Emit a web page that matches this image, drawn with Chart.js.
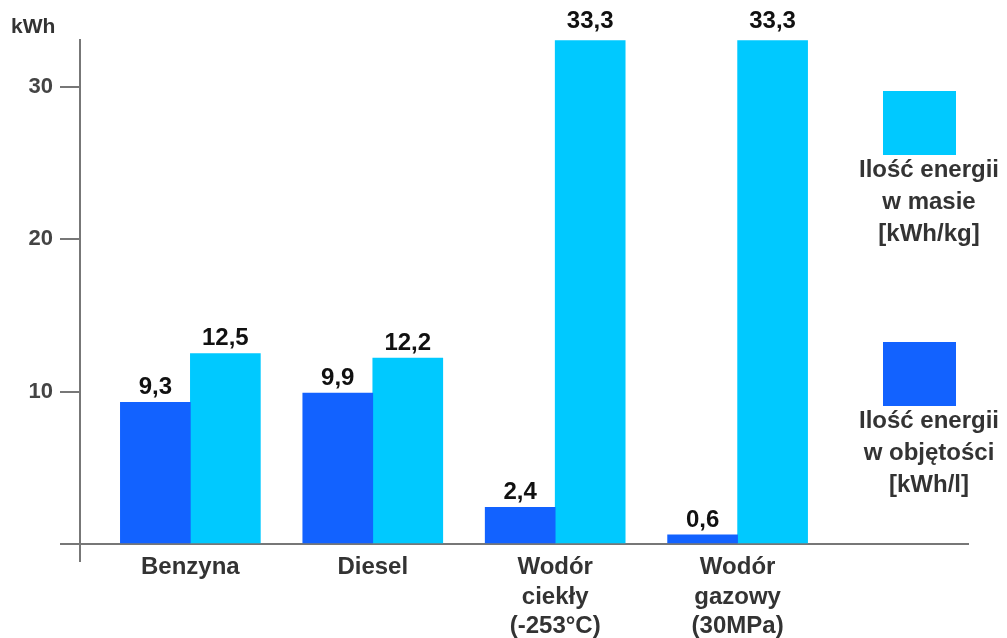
<!DOCTYPE html>
<html>
<head>
<meta charset="utf-8">
<script src="https://cdn.jsdelivr.net/npm/chart.js@4"></script>
<style>
  html, body { margin: 0; padding: 0; background: #fff; }
  #wrap { width: 1007px; height: 638px; }
</style>
</head>
<body>
<div id="wrap"><canvas id="chart"></canvas></div>
<script>
const CATEGORIES = [['Benzyna'], ['Diesel'], ['Wodór', 'ciekły', '(-253°C)'], ['Wodór', 'gazowy', '(30MPa)']];
const PER_VOLUME = [9.3, 9.9, 2.4, 0.6];
const PER_MASS = [12.5, 12.2, 33.3, 33.3];
const VOLUME_LABEL = ['Ilość energii', 'w objętości', '[kWh/l]'];
const MASS_LABEL = ['Ilość energii', 'w masie', '[kWh/kg]'];
const Y_TICKS = [0, 10, 20, 30];
const UNIT = 'kWh';

const X_MIN = -0.605;
const X_MAX = 4.263;
const Y_MAX = 33.05;

const FONT = 'Liberation Sans, Arial, sans-serif';
const DARK = '#1262FF';
const LIGHT = '#00C9FF';
const AXIS = '#777';

Chart.defaults.font.family = FONT;

const fmt = v => v.toFixed(1).replace('.', ',');

// numbers above the bars
const valueLabels = {
    id: 'valueLabels',
    afterDatasetsDraw(chart, args, opts) {
        const ctx = chart.ctx;
        ctx.save();
        ctx.font = 'bold 24px ' + FONT;
        ctx.fillStyle = '#111';
        ctx.textAlign = 'center';
        ctx.textBaseline = 'alphabetic';
        chart.data.datasets.forEach((ds, di) => {
            chart.getDatasetMeta(di).data.forEach((bar, i) => {
                ctx.fillText(fmt(ds.data[i].y), bar.x, bar.y - opts.gap);
            });
        });
        ctx.restore();
    }
};

// legend on the right: box with text under it
const sideLegend = {
    id: 'sideLegend',
    afterDraw(chart, args, opts) {
        const ctx = chart.ctx;
        ctx.save();
        opts.order.forEach((di, k) => {
            const ds = chart.data.datasets[di];
            const top = opts.tops[k];
            ctx.fillStyle = ds.backgroundColor;
            ctx.fillRect(opts.boxX, top, opts.boxW, opts.boxH);
            ctx.font = 'bold 24px ' + FONT;
            ctx.fillStyle = '#333';
            ctx.textAlign = 'center';
            ctx.textBaseline = 'middle';
            opts.lines[k].forEach((line, j) => {
                ctx.fillText(line, opts.textX, top + opts.boxH + opts.firstLine + j * opts.lineGap);
            });
        });
        ctx.restore();
    }
};

new Chart(document.getElementById('chart'), {
    type: 'bar',
    data: {
        datasets: [
            {
                label: VOLUME_LABEL.join(' '),
                data: PER_VOLUME.map((v, i) => ({ x: i, y: v })),
                backgroundColor: DARK,
                barThickness: 70,
            },
            {
                label: MASS_LABEL.join(' '),
                data: PER_MASS.map((v, i) => ({ x: i, y: v })),
                backgroundColor: LIGHT,
                barThickness: 70,
            },
        ]
    },
    options: {
        responsive: true,
        maintainAspectRatio: false,
        animation: false,
        devicePixelRatio: 1,
        layout: { padding: { left: 11, right: 39, top: 0, bottom: 0 } },
        scales: {
            x: {
                type: 'linear',
                min: X_MIN,
                max: X_MAX,
                offset: false,
                afterBuildTicks: s => { s.ticks = [X_MIN, 0, 1, 2, 3].map(v => ({ value: v })); },
                afterFit: s => { s.height = 94; },
                ticks: {
                    callback: v => v < 0 ? '' : CATEGORIES[v],
                    autoSkip: false,
                    maxRotation: 0,
                    padding: -9,
                    color: '#333',
                    font: { size: 24, weight: 'bold', lineHeight: 1.22 },
                },
                grid: {
                    drawOnChartArea: false,
                    offset: false,
                    tickLength: 18,
                    lineWidth: 2,
                    color: c => c.index === 0 ? AXIS : 'rgba(0,0,0,0)',
                },
                border: { color: AXIS, width: 2 },
            },
            y: {
                min: 0,
                max: Y_MAX,
                afterBuildTicks: s => { s.ticks = Y_TICKS.map(v => ({ value: v })); },
                afterFit: s => { s.width = 69; },
                ticks: {
                    callback: v => v === 0 ? '' : v,
                    padding: 7,
                    color: '#444',
                    font: { size: 22, weight: 'bold' },
                },
                grid: {
                    drawOnChartArea: false,
                    tickLength: 20,
                    lineWidth: 2,
                    color: AXIS,
                },
                border: { color: AXIS, width: 2 },
            },
        },
        plugins: {
            legend: { display: false },
            tooltip: { enabled: false },
            title: {
                display: true,
                text: UNIT,
                align: 'start',
                color: '#333',
                font: { size: 21, weight: 'bold', lineHeight: 1.2 },
                padding: { top: 15, bottom: 0 },
            },
            valueLabels: { gap: 8 },
            sideLegend: {
                order: [1, 0],
                lines: [MASS_LABEL, VOLUME_LABEL],
                tops: [91, 342],
                boxX: 883, boxW: 73, boxH: 64,
                textX: 929, firstLine: 15, lineGap: 32,
            },
        }
    },
    plugins: [valueLabels, sideLegend]
});
</script>
</body>
</html>
